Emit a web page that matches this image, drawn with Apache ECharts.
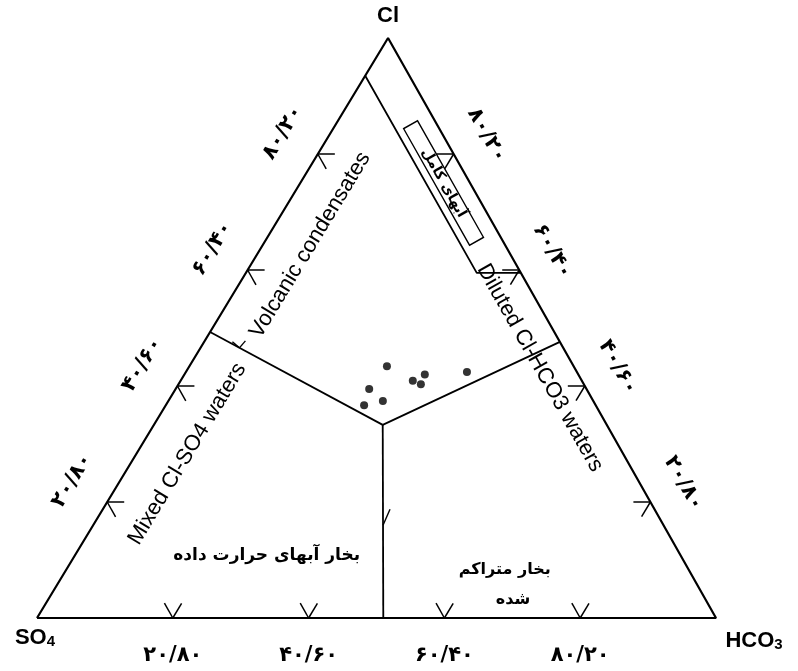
<!DOCTYPE html>
<html>
<head>
<meta charset="utf-8">
<script src="https://cdn.jsdelivr.net/npm/echarts/dist/echarts.min.js"></script>
<style>
  html, body { margin: 0; padding: 0; background: #fff; }
  #main { width: 798px; height: 671px; }
</style>
</head>
<body>
<div id="main"></div>
<script>
// samples as percentages [Cl, SO4, HCO3]
const clValues = [43.4, 39.5, 36.7, 37.4, 40.9, 42.0, 40.3, 42.4];
const so4Values = [27.5, 32.0, 34.1, 31.0, 24.9, 22.6, 24.0, 16.2];
const hco3Values = [29.1, 28.5, 29.2, 31.6, 34.2, 35.4, 35.7, 41.4];

// ticks along each side
const tickValues = [20, 40, 60, 80];
const bottomTickLabels = ['۲۰/۸۰', '۴۰/۶۰', '۶۰/۴۰', '۸۰/۲۰'];
const leftTickLabels = ['۲۰/۸۰', '۴۰/۶۰', '۶۰/۴۰', '۸۰/۲۰'];
const rightTickLabels = ['۲۰/۸۰', '۴۰/۶۰', '۶۰/۴۰', '۸۰/۲۰'];

// field boundaries [Cl, SO4, HCO3]
const matureBoundary = [[93.5, 6.5, 0], [59.5, 6.5, 34], [59.5, 0, 40.5]];
const centre = [33.3, 33.0, 33.7];
const leftBoundary = [[49.3, 50.7, 0], centre];
const rightBoundary = [centre, [47.6, 0, 52.4]];
const lowerBoundary = [centre, [0, 49, 51]];

const APEX_X = 51.7;
const V_CL = [100, 0, 0], V_SO4 = [0, 100, 0], V_HCO3 = [0, 0, 100];

function toXY(p) {
  const t = p[0] + p[1] + p[2];
  return [(p[2] + p[0] * APEX_X / 100) / t * 100, p[0] / t * 100];
}
function along(seg, t) {
  return [0, 1, 2].map(function (k) { return seg[0][k] + (seg[1][k] - seg[0][k]) * t; });
}
function unit(a, b) {
  const dx = b[0] - a[0], dy = b[1] - a[1];
  const l = Math.hypot(dx, dy);
  return [dx / l, dy / l];
}
function frame(api) {
  const so4 = api.coord(toXY(V_SO4));
  const hco3 = api.coord(toXY(V_HCO3));
  const cl = api.coord(toXY(V_CL));
  return { so4, hco3, cl, left: unit(so4, cl), right: unit(cl, hco3) };
}
function rotFor(kind, f) {
  if (kind === 'left') return Math.atan2(-f.left[1], f.left[0]);
  if (kind === 'right') return -Math.atan2(f.right[1], f.right[0]);
  return 0;
}

const FA = '"DejaVu Sans", sans-serif';
const EN = '"Liberation Sans", Arial, sans-serif';

const tickData = [];
const tickText = [];
tickValues.forEach(function (v, i) {
  tickData.push(toXY([0, 100 - v, v]).concat([0]));
  tickText.push(bottomTickLabels[i]);
  tickData.push(toXY([v, 100 - v, 0]).concat([1]));
  tickText.push(leftTickLabels[i]);
  tickData.push(toXY([v, 0, 100 - v]).concat([2]));
  tickText.push(rightTickLabels[i]);
});

const regionLabels = [
  { text: 'Volcanic condensates', at: [64.3, 28.7, 7.0], rot: 'left', font: 'normal 22px ' + EN },
  { text: 'Mixed Cl-SO4 waters', at: [28.3, 64.2, 7.5], rot: 'left', font: 'normal 22px ' + EN },
  { text: 'Diluted Cl-HCO3 waters', at: [43.1, 5.1, 51.8], rot: 'right', font: 'normal 22px ' + EN },
  { text: 'آبهای کامل', at: [75, 3.9, 21.1], rot: 'right', font: 'bold 14px ' + FA, box: [134, 16] },
  { text: 'بخار آبهای حرارت داده', at: [10.7, 61.0, 28.3], rot: 'none', font: 'bold 17px ' + FA },
  { text: 'بخار متراکم', at: [8.3, 27.1, 64.6], rot: 'none', font: 'bold 16px ' + FA },
  { text: 'شده', at: [3.1, 28.4, 68.5], rot: 'none', font: 'bold 16px ' + FA }
];

// little hand-drawn arrow strokes on the inner boundaries
const arrowMarks = [
  { at: along(leftBoundary, 0.17), arms: [[-7, -6], [6, -7]] },
  { at: along(lowerBoundary, 0.52), arms: [[7, -16]] }
];

const vertexLabels = [
  { at: V_CL, off: [0, -22], text: '{a|Cl}' },
  { at: V_SO4, off: [-2, 20], text: '{a|SO}{b|4}' },
  { at: V_HCO3, off: [38, 23], text: '{a|HCO}{b|3}' }
];

function lineSeries(points, width) {
  return {
    type: 'line',
    data: points.map(toXY),
    symbol: 'none',
    lineStyle: { color: '#000', width: width },
    silent: true,
    z: 2
  };
}

const option = {
  animation: false,
  grid: { left: 37, right: 82, top: 38, bottom: 53 },
  xAxis: { type: 'value', min: 0, max: 100, show: false },
  yAxis: { type: 'value', min: 0, max: 100, show: false },
  series: [
    lineSeries([V_SO4, V_HCO3, V_CL, V_SO4], 2.2),
    lineSeries(matureBoundary, 1.8),
    lineSeries(leftBoundary, 1.8),
    lineSeries(rightBoundary, 1.8),
    lineSeries(lowerBoundary, 1.8),
    {
      type: 'custom',
      data: tickData,
      renderItem: function (params, api) {
        const f = frame(api);
        const p = api.coord([api.value(0), api.value(1)]);
        const side = api.value(2);
        let d1, d2;
        if (side === 0) { d1 = f.left; d2 = [-f.right[0], -f.right[1]]; }
        else if (side === 1) { d1 = [1, 0]; d2 = f.right; }
        else { d1 = [-1, 0]; d2 = [-f.left[0], -f.left[1]]; }
        const L = 17;
        return {
          type: 'group',
          children: [d1, d2].map(function (d) {
            return {
              type: 'line',
              shape: { x1: p[0], y1: p[1], x2: p[0] + L * d[0], y2: p[1] + L * d[1] },
              style: { stroke: '#000', lineWidth: 1.5 }
            };
          })
        };
      }
    },
    {
      type: 'custom',
      data: arrowMarks.map(function (m) { return toXY(m.at); }),
      renderItem: function (params, api) {
        const m = arrowMarks[params.dataIndex];
        const p = api.coord([api.value(0), api.value(1)]);
        return {
          type: 'group',
          children: m.arms.map(function (a) {
            return {
              type: 'line',
              shape: { x1: p[0], y1: p[1], x2: p[0] + a[0], y2: p[1] + a[1] },
              style: { stroke: '#000', lineWidth: 1.4 }
            };
          })
        };
      }
    },
    {
      type: 'custom',
      data: tickData,
      renderItem: function (params, api) {
        const f = frame(api);
        const p = api.coord([api.value(0), api.value(1)]);
        const side = api.value(2);
        let off, rot;
        if (side === 0) { off = [0, 38]; rot = 0; }
        else if (side === 1) { off = [f.left[1] * 41, -f.left[0] * 41]; rot = rotFor('left', f); }
        else { off = [f.right[1] * 38, -f.right[0] * 38]; rot = rotFor('right', f); }
        return {
          type: 'text',
          x: p[0] + off[0],
          y: p[1] + off[1],
          rotation: rot,
          style: {
            text: tickText[params.dataIndex],
            font: 'bold 21px ' + FA,
            fill: '#000',
            align: 'center',
            verticalAlign: 'middle'
          }
        };
      }
    },
    {
      type: 'custom',
      data: regionLabels.map(function (r) { return toXY(r.at); }),
      renderItem: function (params, api) {
        const f = frame(api);
        const r = regionLabels[params.dataIndex];
        const p = api.coord([api.value(0), api.value(1)]);
        const rot = rotFor(r.rot, f);
        const children = [{
          type: 'text',
          style: { text: r.text, font: r.font, fill: '#000', align: 'center', verticalAlign: 'middle' }
        }];
        if (r.box) {
          children.unshift({
            type: 'rect',
            shape: { x: -r.box[0] / 2, y: -r.box[1] / 2, width: r.box[0], height: r.box[1] },
            style: { fill: 'none', stroke: '#000', lineWidth: 1.4 }
          });
        }
        return { type: 'group', x: p[0], y: p[1], rotation: rot, children: children };
      }
    },
    {
      type: 'custom',
      data: vertexLabels.map(function (v) { return toXY(v.at); }),
      renderItem: function (params, api) {
        const v = vertexLabels[params.dataIndex];
        const p = api.coord([api.value(0), api.value(1)]);
        return {
          type: 'text',
          x: p[0] + v.off[0],
          y: p[1] + v.off[1],
          style: {
            text: v.text,
            align: 'center',
            verticalAlign: 'middle',
            rich: {
              a: { font: 'bold 22px ' + EN, fill: '#000', verticalAlign: 'bottom' },
              b: { font: 'bold 15px ' + EN, fill: '#000', verticalAlign: 'bottom' }
            }
          }
        };
      }
    },
    {
      type: 'scatter',
      data: clValues.map(function (c, i) { return toXY([c, so4Values[i], hco3Values[i]]); }),
      symbol: 'circle',
      symbolSize: 8,
      itemStyle: { color: '#000' },
      z: 5
    }
  ]
};

const chart = echarts.init(document.getElementById('main'));
chart.setOption(option);
</script>
</body>
</html>
